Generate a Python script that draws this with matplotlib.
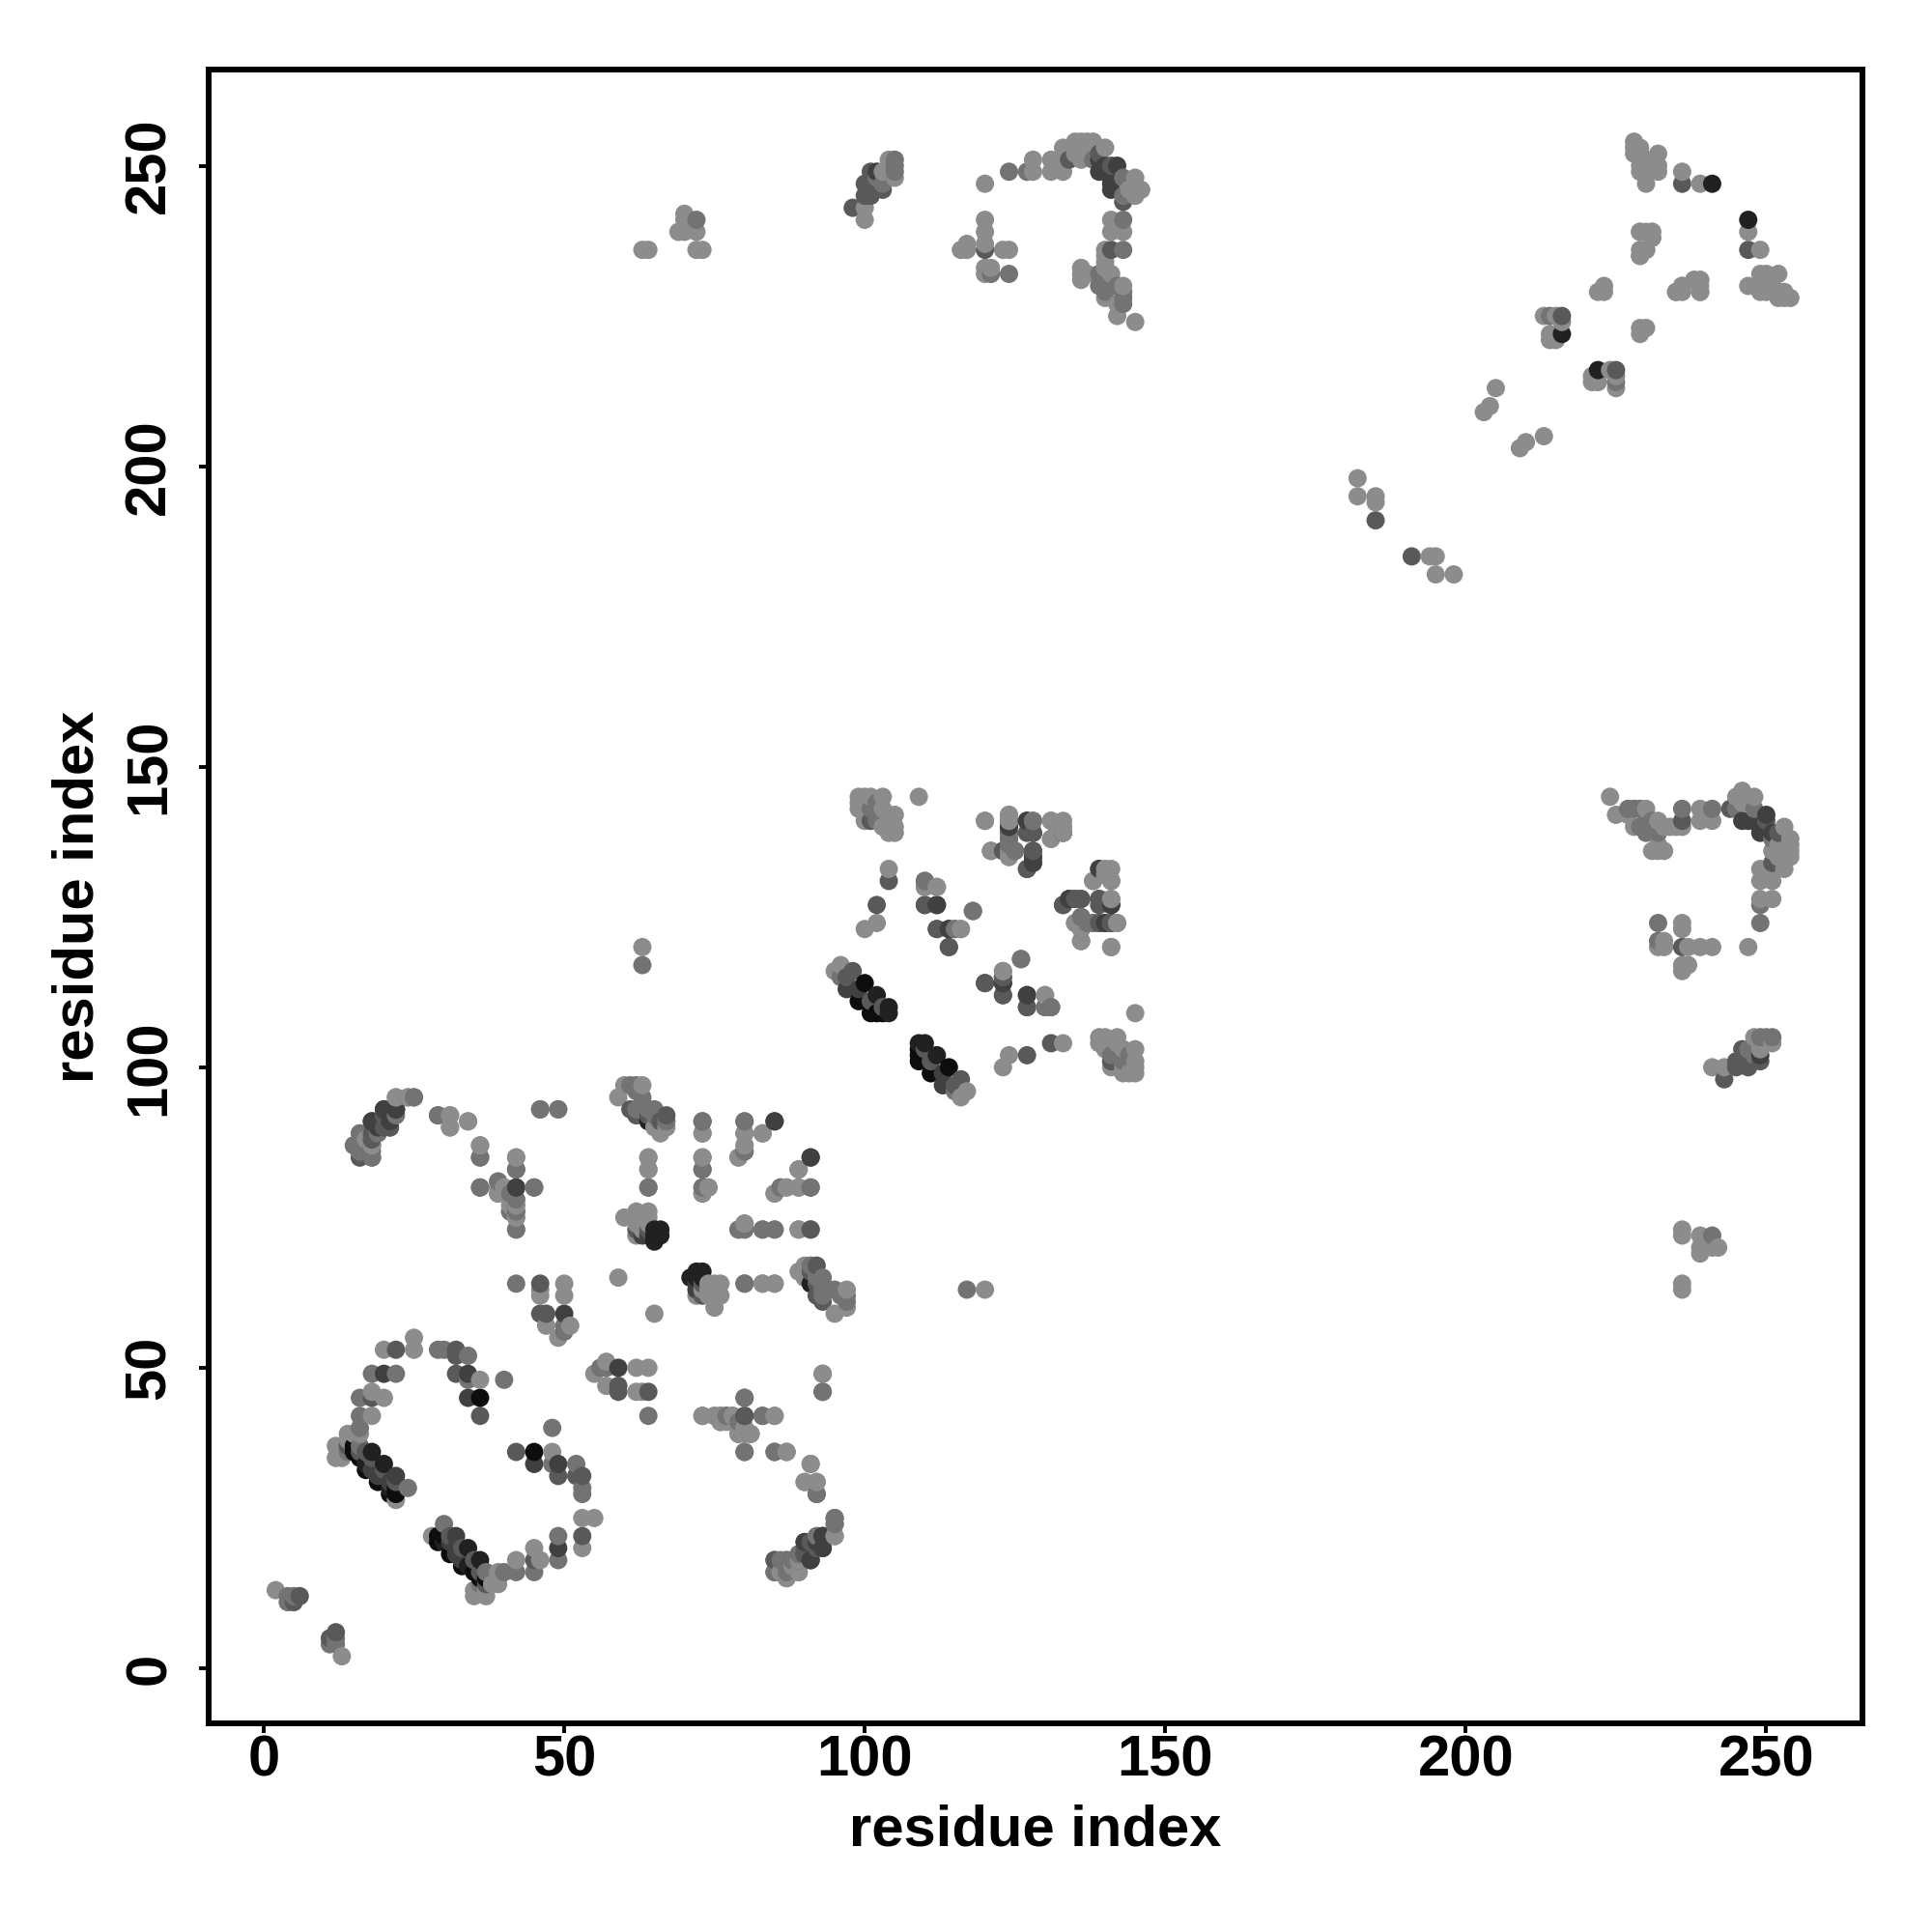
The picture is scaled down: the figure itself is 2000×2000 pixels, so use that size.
import matplotlib
matplotlib.use("Agg")
import matplotlib.pyplot as plt

a, b, c, d, e, f = 0.55, 0.45, 0.35, 0.25, 0.13, 0.05

nterm = [(2,13,a),(4,12,b),(4,11,b),(5,11,c),(5,12,b),(6,12,c)]
strand_15_37 = [(12,37,a),(12,35,a),(13,37,a),(13,35,a),(14,38,a),(14,36,b),(14,37,c),(16,37,b),(16,36,c),(17,36,c),
 (15,37,f),(15,36,f),(16,35,f),(17,34,e),(17,33,f),(18,36,e),(18,35,c),(18,33,d),(19,32,d),(19,31,f),
 (20,34,e),(20,33,c),(20,32,d),(21,31,d),(21,29,f),(21,30,e),(22,32,d),(22,31,c),(22,30,f),(22,29,f),(22,28,a),(24,30,b)]
arc_15_55 = [(14,39,a),(15,39,a),(16,39,a),(16,40,b),(16,42,b),(18,42,a),(16,45,b),(18,45,c),(18,46,a),(20,45,a),
 (18,49,b),(20,49,d),(22,49,b),(20,53,a),(22,53,c),(25,53,a),(25,55,a),(29,53,b),(30,53,b),(32,53,c),(32,52,c),
 (34,52,b),(32,49,c),(34,49,d),(34,48,b),(36,48,a),(40,48,b),(34,45,d),(36,45,f),(36,42,c)]
cluster_15_95 = [(15,87,a),(16,87,b),(16,85,b),(16,86,a),(16,89,a),(18,85,c),(18,87,b),(18,88,b),(18,89,a),(19,89,b),
 (18,91,d),(19,90,c),(20,90,c),(21,90,d),(20,93,d),(20,92,c),(21,91,c),(22,92,b),(22,93,d),(22,95,a),(24,95,b),(25,95,b),
 (29,92,b),(31,92,a),(31,90,a),(34,91,a),(36,87,a),(36,85,b),(36,80,b),(39,81,a),(39,80,a),(39,79,a),(40,80,a),(40,79,a),
 (42,85,a),(42,83,b),(42,80,c),(45,80,b),(42,78,a),(41,77,a),(42,77,b),(41,76,a),(42,76,a),(42,75,a),(42,73,a),(46,93,b),(49,93,a)]
cluster_42_64 = [(42,64,b),(46,64,c),(46,63,a),(46,62,a),(50,64,a),(50,62,a),(46,59,c),(47,59,c),(47,57,a),(50,59,d),
 (50,57,b),(51,57,a),(49,55,a),(50,56,b),(59,65,a)]
cluster_59_97 = [(59,95,a),(60,97,a),(61,97,b),(62,97,b),(63,97,a),(62,96,b),(63,95,b),(61,93,c),(63,93,b),(62,93,b),(62,92,c),
 (64,91,e),(64,93,b),(65,93,b),(64,92,c),(65,92,b),(66,91,c),(67,91,b),(67,92,c),(67,90,a),(65,90,a),(66,89,a)]
cluster_64_91 = [(73,91,c),(73,89,a),(80,91,b),(80,89,a),(80,87,a),(80,86,b),(79,85,a),(83,89,a),(85,91,d),(64,85,a),(64,83,a),
 (64,80,b),(73,85,b),(73,83,b),(73,80,b),(74,80,a),(73,79,b),(85,79,a),(86,80,b),(87,80,a),(89,80,a),(91,80,b),(89,83,a),(91,85,d)]
cluster_60_76 = [(60,75,a),(62,76,a),(64,76,a),(62,75,a),(63,75,a),(64,75,a),(62,74,a),(63,74,a),(64,74,a),(62,73,c),(63,73,a),
 (64,73,c),(62,72,a),(63,72,d),(64,72,d),(65,71,e),(65,72,e),(65,73,e),(66,72,e),(66,73,e)]
row_73 = [(79,73,a),(80,74,a),(80,73,b),(83,73,b),(85,73,a),(89,73,a),(91,73,b),(80,64,b),(83,64,a),(85,64,a)]
row_42 = [(73,42,b),(75,42,a),(76,41,b),(76,42,b),(77,42,a),(78,42,b),(79,39,a),(79,41,b),(80,45,b),(80,40,a),(81,39,b),(80,42,d),
 (83,42,b),(85,42,a),(80,36,b),(85,36,b),(87,36,a),(91,34,a),(90,31,a),(92,31,a),(92,29,b),(95,25,b),(95,24,a),(95,22,a),
 (93,49,b),(93,46,b)]
strand_85_95 = [(85,18,b),(85,16,c),(86,18,b),(86,16,b),(87,18,a),(87,15,b),(88,17,a),(88,18,c),(89,16,b),(89,18,c),
 (90,19,d),(90,21,c),(91,18,d),(91,21,d),(92,21,d),(93,20,d),(93,22,d)]
far_63 = [(63,117,b),(63,120,a),(63,236,a),(64,236,a),(70,242,a),(70,241,a),(69,239,a),(70,239,a),(72,241,b),(72,239,a),(72,236,a),(73,236,a)]
cluster_99_145 = [(99,145,a),(101,145,a),(100,145,a),(103,145,a),(99,144,a),(99,143,a),(100,143,a),(101,143,b),(102,144,b),(103,143,a),
 (100,141,a),(101,141,c),(102,141,b),(103,140,a),(104,142,a),(105,142,a),(104,140,a),(105,140,a),(104,139,a),(105,139,a),(109,145,a),
 (104,133,a),(104,131,c),(102,127,c),(102,124,a),(100,123,a)]
cluster_110_131 = [(110,131,b),(110,130,b),(112,130,a),(110,127,c),(112,127,d),(112,123,c),(114,123,d),(115,123,c),(116,123,a),(114,120,c),(118,126,b),
 (120,114,c),(123,116,a),(123,115,b),(123,114,d),(123,112,c),(126,118,b),(127,112,d),(127,110,c),(130,112,a),(131,110,b),(130,110,a)]
strand_95_117 = [(95,116,a),(96,117,a),(96,115,b),(97,115,c),(98,116,c),(97,113,d),(99,113,d),(100,114,f),(99,111,f),(101,111,c),
 (102,112,e),(101,109,f),(103,110,c),(104,110,e),(103,109,f),(102,109,f),(104,109,e)]
cluster_120_142 = [(120,141,a),(124,142,a),(124,141,c),(124,140,d),(124,139,c),(124,138,b),(124,136,a),(124,135,a),(125,136,b),(121,136,a),(123,136,a),
 (127,141,d),(128,141,a),(127,139,c),(128,139,c),(128,136,c),(128,135,c),(128,134,d),(127,133,c),(131,141,a),(133,141,a),(133,139,d),(131,138,a),(132,140,a),
 (133,140,a)]
cluster_133_142 = [(138,131,a),(139,133,a),(141,131,a),(139,128,c),(141,128,b),(141,127,d),(136,128,c),(134,128,d),(135,128,d),(133,127,c),(136,125,b),
 (135,124,a),(136,123,c),(138,124,b),(137,124,b),(139,124,b),(140,124,d),(141,124,a),(142,124,a),(136,121,a),(141,120,a)]
cluster_98_105 = [(98,243,c),(100,243,a),(100,241,a),(100,247,c),(100,245,c),(102,249,d),(101,245,c),(103,246,c),(102,248,b),(103,249,a),
 (104,251,a),(105,251,b),(105,249,b),(105,248,a),(104,249,a),(102,247,c),(101,249,c),(105,250,b),(103,247,b)]
cluster_120_146 = [(120,247,a),(124,249,b),(127,249,b),(128,249,a),(128,251,a),(131,251,a),(131,249,a),(133,249,a),(133,251,a),(133,253,a),
 (135,254,a),(136,254,a),(137,254,a),(138,254,a),(135,252,a),(136,251,a),(137,252,a),(138,251,b),(134,251,c),(139,252,c),(139,251,d),(139,249,d),
 (140,249,d),(140,250,d),(141,250,c),(142,250,d),(141,247,d),(141,246,d),(141,248,d),(140,253,a),(143,248,b),(143,244,c),(145,248,a),(146,246,a),(143,245,b),(145,245,a),(144,246,a)]
cluster_116_145 = [(141,241,a),(143,241,b),(141,239,a),(143,239,a),(140,236,a),(141,236,c),(143,236,b),(140,235,a),(140,234,a),
 (116,236,a),(117,236,a),(117,237,a),(120,241,a),(120,239,a),(120,237,a),(120,236,c),(123,236,a),(124,236,a),(120,233,a),(120,232,a),(121,232,b),(121,233,a),(124,232,b),
 (136,233,a),(136,232,a),(136,231,a),(137,232,a),(139,230,b),(139,232,b),(140,233,a),(140,232,b),(141,232,a),(140,231,b),(140,230,b),(140,229,b),(140,228,a),(141,231,b),(142,230,b),
 (143,230,a),(143,229,b),(143,228,b),(143,227,b),(142,227,a),(142,225,a),(145,224,a)]
tail_182_254 = [(182,198,a),(182,195,a),(185,195,a),(185,194,a),(185,191,c),(205,213,a),(204,210,a),(203,209,a),
 (213,225,a),(214,225,b),(215,225,a),(216,225,c),(216,224,a),(214,222,a),(214,221,a),(215,221,a),(216,222,e),
 (222,229,a),(223,229,a),(223,230,a),(228,254,a),(228,253,a),(228,252,a),(229,253,a),(229,252,a),(229,250,a),(229,249,a),
 (230,251,a),(230,249,a),(230,247,a),(231,251,a),(232,252,a),(232,250,a),(232,249,a),(236,249,a),(236,247,c),(239,247,a),(241,247,e),
 (229,239,a),(230,239,a),(231,239,a),(231,238,a),(230,236,a),(229,235,a),(229,236,a),(235,229,a),(236,230,a),(238,231,a),(239,231,a),(239,229,a)]

clusters = [nterm, strand_15_37, arc_15_55, cluster_15_95, cluster_42_64, cluster_59_97, cluster_64_91, cluster_60_76,
            row_73, row_42, strand_85_95, far_63, cluster_99_145, cluster_110_131, strand_95_117, cluster_120_142,
            cluster_133_142, cluster_98_105, cluster_120_146, cluster_116_145, tail_182_254]

contacts = [t for cl in clusters for t in cl]
contacts = contacts + [(j, i, s) for i, j, s in contacts]
contacts.sort(key=lambda t: (t[0], t[1]))   # residues in index order: later ones on top
xs = [t[0] for t in contacts]
ys = [t[1] for t in contacts]
shades = [str(t[2]) for t in contacts]

x_ticks = [0, 50, 100, 150, 200, 250]
y_ticks = [0, 50, 100, 150, 200, 250]

plt.rcParams['font.family'] = ['Liberation Sans', 'DejaVu Sans']
fig = plt.figure(figsize=(20, 20), dpi=100)
ax = fig.add_axes([216/2000, 1-1784/2000, (1928-216)/2000, (1784-72)/2000])
ax.scatter(xs, ys, c=shades, s=186, linewidths=0, zorder=2)
ax.set_xlim(-9.16, 266)
ax.set_ylim(-9.16, 266)
for sp in ax.spines.values():
    sp.set_linewidth(4.3)
ax.set_xticks(x_ticks)
ax.set_yticks(y_ticks)
ax.tick_params(axis='both', length=7, width=2.8, labelsize=43)
ax.tick_params(axis='x', pad=1)
ax.tick_params(axis='y', pad=17)
for t in ax.get_xticklabels():
    t.set_fontweight('bold')
for t in ax.get_yticklabels():
    t.set_fontweight('bold')
    t.set_rotation(90)
    t.set_va('center')
fig.text(1072/2000, 1-1895/2000, 'residue index', fontsize=43, fontweight='bold', ha='center', va='center')
fig.text(81/2000, 1-928/2000, 'residue index', fontsize=43, fontweight='bold', ha='center', va='center', rotation=90)
fig.savefig('out.png', dpi=100, facecolor='white')
